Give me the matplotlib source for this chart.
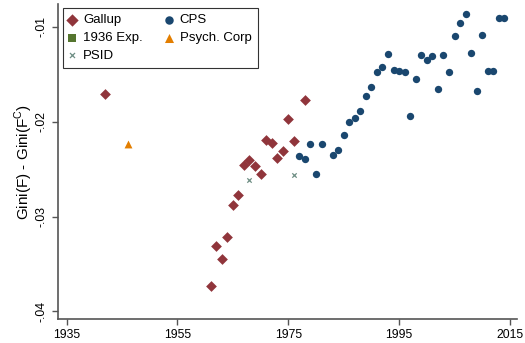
import matplotlib
matplotlib.use('Agg')
import matplotlib.pyplot as plt

plt.rcParams['font.family'] = ['Liberation Sans', 'DejaVu Sans']

# Gallup
gallup_year = [1942, 1961, 1962, 1963, 1964, 1965, 1966, 1967, 1968, 1969, 1970,
               1971, 1972, 1973, 1974, 1975, 1976, 1978]
gallup_val = [-0.0171, -0.0373, -0.0331, -0.0345, -0.0322, -0.0288, -0.0277, -0.0246,
              -0.0240, -0.0247, -0.0255, -0.0219, -0.0222, -0.0238, -0.0231, -0.0197,
              -0.0220, -0.0177]

# CPS
cps_year = [1977, 1978, 1979, 1980, 1981, 1983, 1984, 1985, 1986, 1987, 1988, 1989,
            1990, 1991, 1992, 1993, 1994, 1995, 1996, 1997, 1998, 1999, 2000, 2001,
            2002, 2003, 2004, 2005, 2006, 2007, 2008, 2009, 2010, 2011, 2012, 2013, 2014]
cps_val = [-0.0236, -0.0239, -0.0223, -0.0255, -0.0224, -0.0235, -0.0230, -0.0214,
           -0.0200, -0.0196, -0.0189, -0.0173, -0.0163, -0.0148, -0.0142, -0.0129,
           -0.0145, -0.0146, -0.0148, -0.0194, -0.0155, -0.0130, -0.0135, -0.0131,
           -0.0165, -0.0130, -0.0148, -0.0110, -0.0096, -0.0086, -0.0128, -0.0168,
           -0.0109, -0.0147, -0.0146, -0.0091, -0.0091]

# 1936 Exp. (no point inside the plotted range)
exp1936_year = []
exp1936_val = []

# Psych. Corp
psych_year = [1946]
psych_val = [-0.0223]

# PSID
psid_year = [1968, 1976]
psid_val = [-0.0261, -0.0256]

xticks = [1935, 1955, 1975, 1995, 2015]
yticks = [-0.04, -0.03, -0.02, -0.01]
ytick_labels = ['-.04', '-.03', '-.02', '-.01']

fig = plt.figure(figsize=(5.25, 3.43), dpi=100)
ax = fig.add_axes([0.110, 0.070, 0.875, 0.918])

h_gallup = ax.scatter(gallup_year, gallup_val, marker='D', s=30, color='#90353b', lw=0, label='Gallup')
h_cps = ax.scatter(cps_year, cps_val, marker='o', s=28, color='#1a476f', lw=0, label='CPS')
h_exp = ax.scatter(exp1936_year, exp1936_val, marker='s', s=28, color='#55752f', lw=0, label='1936 Exp.')
h_psych = ax.scatter(psych_year, psych_val, marker='^', s=32, color='#e37e00', lw=0, label='Psych. Corp')
h_psid = ax.scatter(psid_year, psid_val, marker='x', s=10, color='#6e8e84', lw=0.9, label='PSID')

ax.set_xlim(1933.4, 2016.3)
ax.set_ylim(-0.0408, -0.0076)
ax.set_xticks(xticks)
ax.set_yticks(yticks)
ax.set_yticklabels(ytick_labels, rotation=90, va='center')
ax.tick_params(labelsize=8.8, direction='out', length=4, color='#555555', width=1)

for s in ['top', 'right']:
    ax.spines[s].set_visible(False)
for s in ['left', 'bottom']:
    ax.spines[s].set_color('#555555')
    ax.spines[s].set_linewidth(1.2)

ax.set_ylabel('Gini(F) - Gini(F$^\\mathregular{C}$)', fontsize=11, labelpad=0)
ax.set_xlabel('Year', fontsize=11, labelpad=3)

# column-wise fill so rows read Gallup/CPS, 1936 Exp./Psych. Corp, PSID
handles = [h_gallup, h_exp, h_psid, h_cps, h_psych]
labels = ['Gallup', '1936 Exp.', 'PSID', 'CPS', 'Psych. Corp']
leg = ax.legend(handles, labels, ncol=2, loc='upper left', bbox_to_anchor=(0.011, 0.987),
                fontsize=9.5, frameon=True, fancybox=False, borderpad=0.45,
                handletextpad=0.6, columnspacing=1.7, labelspacing=0.42,
                handlelength=0.5, borderaxespad=0, markerscale=1.15)
leg.get_frame().set_edgecolor('black')
leg.get_frame().set_linewidth(0.8)

fig.savefig('out.png', dpi=100, facecolor='white')
